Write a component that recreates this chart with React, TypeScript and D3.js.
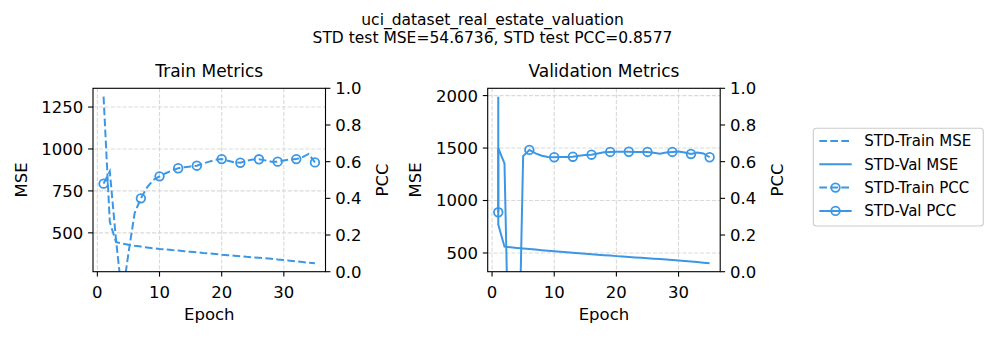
import React from "react";
import * as d3 from "d3";

const trainEpochs = [
  1, 2, 3, 4, 5, 6, 7, 8, 9, 10, 11, 12, 13, 14, 15, 16, 17, 18, 19, 20, 21, 22, 23, 24, 25, 26, 27, 28, 29, 30,
  31, 32, 33, 34, 35,
];
const trainMse = [
  1312, 566, 444, 436, 429, 423, 418, 413, 408, 404, 401, 397, 394, 390, 387, 384, 380, 377, 374, 370, 367, 364,
  361, 357, 354, 351, 348, 345, 341, 338, 334, 330, 326, 322, 318,
];
const trainPcc = [
  0.48, 0.547, 0.175, -0.14, 0.1, 0.32, 0.4, 0.46, 0.5, 0.52, 0.537, 0.552, 0.564, 0.57, 0.574, 0.578, 0.59, 0.6,
  0.61, 0.614, 0.605, 0.597, 0.594, 0.605, 0.612, 0.613, 0.607, 0.6, 0.6, 0.606, 0.612, 0.614, 0.625, 0.642, 0.596,
];
const trainMarkIdx = [0, 3, 6, 9, 12, 15, 19, 22, 25, 28, 31, 34];

// validation was logged twice at epoch 1
const valEpochs = [
  1, 1, 2, 3, 4, 5, 6, 7, 8, 9, 10, 11, 12, 13, 14, 15, 16, 17, 18, 19, 20, 21, 22, 23, 24, 25, 26, 27, 28, 29, 30,
  31, 32, 33, 34, 35,
];
const valMse = [
  1990, 770, 560, 554, 548, 543, 537, 532, 526, 521, 516, 511, 506, 502, 497, 493, 488, 484, 479, 475, 470, 466,
  462, 458, 454, 450, 446, 442, 438, 434, 429, 424, 419, 413, 407, 401,
];
const valPcc = [
  0.324, 0.674, 0.59, -1.0, -1.0, 0.63, 0.664, 0.645, 0.632, 0.626, 0.624, 0.625, 0.626, 0.627, 0.632, 0.636,
  0.638, 0.645, 0.651, 0.653, 0.654, 0.654, 0.654, 0.653, 0.653, 0.653, 0.648, 0.643, 0.65, 0.653, 0.655, 0.65,
  0.642, 0.65, 0.645, 0.624,
];
const valMarkIdx = [0, 6, 10, 13, 16, 19, 22, 25, 29, 32, 35];

const xTicks = [0, 10, 20, 30];
const pccTicks = [0, 0.2, 0.4, 0.6, 0.8, 1.0];
const trainMseTicks = [500, 750, 1000, 1250];
const valMseTicks = [500, 1000, 1500, 2000];

const legendLabels = ["STD-Train MSE", "STD-Val MSE", "STD-Train PCC", "STD-Val PCC"];

const FONT = "DejaVu Sans, sans-serif";
const BLUE = "#3b97e6";
const DASH = "7.7 3.3";
const GRID = "#d9d9d9";

const W = 996;
const H = 338;
const top = 88.3;
const ph = 183.4;
const pw = 232.5;

type PanelProps = {
  id: string;
  left: number;
  title: string;
  epochs: number[];
  mse: number[];
  pcc: number[];
  markIdx: number[];
  mseTicks: number[];
  dashed: boolean;
};

const Panel = ({ id, left, title, epochs, mse, pcc, markIdx, mseTicks, dashed }: PanelProps) => {
  const x = d3.scaleLinear().domain([-0.7, 36.7]).range([0, pw]);
  const [lo, hi] = d3.extent(mse) as [number, number];
  const pad = (hi - lo) * 0.05;
  const yM = d3.scaleLinear().domain([lo - pad, hi + pad]).range([ph, 0]);
  const yP = d3.scaleLinear().domain([0, 1]).range([ph, 0]);

  const mseLine = d3
    .line<number>()
    .x((_, i) => x(epochs[i]))
    .y((d) => yM(d));
  const pccLine = d3
    .line<number>()
    .x((_, i) => x(epochs[i]))
    .y((d) => yP(d));

  const dash = dashed ? DASH : undefined;
  const tick = 4.9;

  return (
    <g transform={`translate(${left},${top})`}>
      <defs>
        <clipPath id={id}>
          <rect x={0} y={0} width={pw} height={ph} />
        </clipPath>
      </defs>
      {xTicks.map((t) => (
        <line key={"gx" + t} x1={x(t)} x2={x(t)} y1={0} y2={ph} stroke={GRID} strokeWidth={1.1} strokeDasharray="4.1 1.8" />
      ))}
      {mseTicks.map((t) => (
        <line key={"gy" + t} x1={0} x2={pw} y1={yM(t)} y2={yM(t)} stroke={GRID} strokeWidth={1.1} strokeDasharray="4.1 1.8" />
      ))}
      <g clipPath={`url(#${id})`}>
        <path d={mseLine(mse) ?? ""} fill="none" stroke={BLUE} strokeWidth={2} strokeDasharray={dash} />
        <path d={pccLine(pcc) ?? ""} fill="none" stroke={BLUE} strokeWidth={2} strokeDasharray={dash} />
        {markIdx.map((i) => (
          <circle key={i} cx={x(epochs[i])} cy={yP(pcc[i])} r={4.3} fill="none" stroke={BLUE} strokeWidth={1.8} />
        ))}
      </g>
      <rect x={0} y={0} width={pw} height={ph} fill="none" stroke="#000" strokeWidth={1.1} />
      {xTicks.map((t) => (
        <g key={"xt" + t}>
          <line x1={x(t)} x2={x(t)} y1={ph} y2={ph + tick} stroke="#000" strokeWidth={1.1} />
          <text x={x(t)} y={ph + 26} textAnchor="middle" fontSize={16.5} fontFamily={FONT}>
            {t}
          </text>
        </g>
      ))}
      {mseTicks.map((t) => (
        <g key={"yt" + t}>
          <line x1={-tick} x2={0} y1={yM(t)} y2={yM(t)} stroke="#000" strokeWidth={1.1} />
          <text x={-9.8} y={yM(t)} dy="0.36em" textAnchor="end" fontSize={16.5} fontFamily={FONT}>
            {t}
          </text>
        </g>
      ))}
      {pccTicks.map((t) => (
        <g key={"pt" + t}>
          <line x1={pw} x2={pw + tick} y1={yP(t)} y2={yP(t)} stroke="#000" strokeWidth={1.1} />
          <text x={pw + 9.8} y={yP(t)} dy="0.36em" textAnchor="start" fontSize={16.5} fontFamily={FONT}>
            {t.toFixed(1)}
          </text>
        </g>
      ))}
      <text x={pw / 2} y={-11} textAnchor="middle" fontSize={17} fontFamily={FONT}>
        {title}
      </text>
      <text x={pw / 2} y={ph + 48.5} textAnchor="middle" fontSize={16.5} fontFamily={FONT}>
        Epoch
      </text>
      <text transform={`translate(${26.5 - 93},${ph / 2}) rotate(-90)`} textAnchor="middle" fontSize={16.5} fontFamily={FONT}>
        MSE
      </text>
      <text transform={`translate(${388 - 93},${ph / 2}) rotate(-90)`} textAnchor="middle" fontSize={16.5} fontFamily={FONT}>
        PCC
      </text>
    </g>
  );
};

const Legend = () => {
  const lx = 813.3;
  const ly = 128.3;
  const rows = [141, 164.3, 187.6, 210.9];
  return (
    <g>
      <rect x={lx} y={ly} width={170} height={97.7} rx={3} fill="#fff" fillOpacity={0.8} stroke="#cccccc" strokeWidth={1.1} />
      {legendLabels.map((label, i) => {
        const y = rows[i];
        const dashed = i % 2 === 0;
        const marker = i >= 2;
        return (
          <g key={label}>
            <line x1={819.3} x2={851.7} y1={y} y2={y} stroke={BLUE} strokeWidth={2} strokeDasharray={dashed ? DASH : undefined} />
            {marker && <circle cx={835.5} cy={y} r={4.3} fill="none" stroke={BLUE} strokeWidth={1.8} />}
            <text x={864.3} y={y} dy="0.36em" fontSize={15} fontFamily={FONT}>
              {label}
            </text>
          </g>
        );
      })}
    </g>
  );
};

export default function App() {
  return (
    <svg width={W} height={H} style={{ display: "block", position: "absolute", left: 0, top: 0, background: "#fff" }}>
      <rect width={W} height={H} fill="#fff" />
      <text x={492.5} y={25} textAnchor="middle" fontSize={15.5} fontFamily={FONT}>
        uci_dataset_real_estate_valuation
      </text>
      <text x={492.5} y={42.7} textAnchor="middle" fontSize={15.5} fontFamily={FONT}>
        STD test MSE=54.6736, STD test PCC=0.8577
      </text>
      <Panel
        id="clipTrain"
        left={93}
        title="Train Metrics"
        epochs={trainEpochs}
        mse={trainMse}
        pcc={trainPcc}
        markIdx={trainMarkIdx}
        mseTicks={trainMseTicks}
        dashed={true}
      />
      <Panel
        id="clipVal"
        left={487.7}
        title="Validation Metrics"
        epochs={valEpochs}
        mse={valMse}
        pcc={valPcc}
        markIdx={valMarkIdx}
        mseTicks={valMseTicks}
        dashed={false}
      />
      <Legend />
    </svg>
  );
}
